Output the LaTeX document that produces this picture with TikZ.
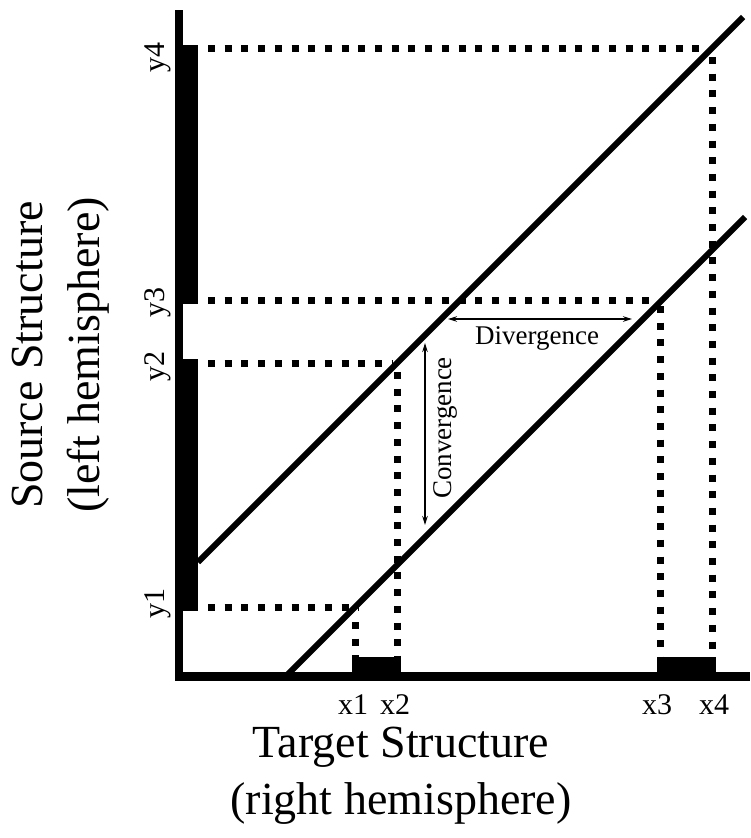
\documentclass[tikz,border=0pt]{standalone}
\usepackage{fontspec}
\setmainfont{Liberation Serif}
\usetikzlibrary{arrows.meta}
\begin{document}
\begin{tikzpicture}[x=1pt,y=-1pt,
  dots/.style={line width=7pt, dash pattern=on 7pt off 9.7pt},
  diag/.style={line width=6pt},
  measure/.style={line width=1.6pt, {Stealth[length=9pt,width=5.5pt]}-{Stealth[length=9pt,width=5.5pt]}},
  ticklab/.style={font=\fontsize{30}{36}\selectfont, inner sep=0pt},
  midlab/.style={font=\fontsize{27}{32}\selectfont, inner sep=0pt},
  bigtitle/.style={font=\fontsize{46}{57}\selectfont, align=center, inner sep=0pt}
]
\useasboundingbox (0,0) rectangle (750,838);
% axes
\fill (175,10) rectangle (183,681);
\fill (175,672) rectangle (750,681);
% bars on the axes
\fill (175,45) rectangle (198,304);
\fill (175,359) rectangle (198,611);
\fill (351.5,657) rectangle (400.5,681);
\fill (656.5,657) rectangle (715.5,681);
% points
\coordinate (P1) at (355,607);
\coordinate (P2) at (397,363);
\coordinate (P3) at (660,300);
\coordinate (P4) at (712,48);
\coordinate (H1) at (208,607);
\coordinate (H2) at (208,363);
\coordinate (H3) at (208,300);
\coordinate (H4) at (208,48);
\coordinate (V1) at (355,622);
\coordinate (V2) at (397,372);
\coordinate (V3) at (660,306);
\coordinate (V4) at (712,57);
\coordinate (B1) at (355,657);
\coordinate (B2) at (397,657);
\coordinate (B3) at (660,657);
\coordinate (B4) at (712,657);
% dotted guides
\draw[dots] (H1) -- (358.5,607);
\draw[dots] (H2) -- (393,363);
\draw[dots] (H3) -- (656,300);
\draw[dots] (H4) -- (699,48);
\draw[dots] (V1) -- (B1);
\draw[dots] (V2) -- (B2);
\draw[dots] (V3) -- (B3);
\draw[dots] (V4) -- (B4);
% diagonal lines
\coordinate (U0) at (198,562);
\coordinate (U1) at (743,17);
\coordinate (L0) at (286,676);
\coordinate (L1) at (745,217);
\draw[diag] (U0) -- (U1);
\draw[diag] (L0) -- (L1);
% measures
\coordinate (D0) at (448,319);
\coordinate (D1) at (632,319);
\draw[measure] (D0) -- (D1);
\node[midlab] (div) at (537,338) {Divergence};
\coordinate (C0) at (425,343);
\coordinate (C1) at (425,525);
\draw[measure] (C0) -- (C1);
\node[midlab, rotate=90] (conv) at (445,428) {Convergence};
% tick labels
\node[ticklab] (x1) at (353,705) {x1};
\node[ticklab] (x2) at (395,705) {x2};
\node[ticklab] (x3) at (657,705) {x3};
\node[ticklab] (x4) at (714,705) {x4};
\node[ticklab, rotate=90] (y4) at (158,57) {y4};
\node[ticklab, rotate=90] (y3) at (158,302) {y3};
\node[ticklab, rotate=90] (y2) at (158,366) {y2};
\node[ticklab, rotate=90] (y1) at (158,603) {y1};
% axis titles
\node[bigtitle, rotate=90] (ytitle) at (61,355) {Source Structure\\(left hemisphere)};
\node[bigtitle] (xtitle) at (401,776) {Target Structure\\(right hemisphere)};
\end{tikzpicture}
\end{document}
